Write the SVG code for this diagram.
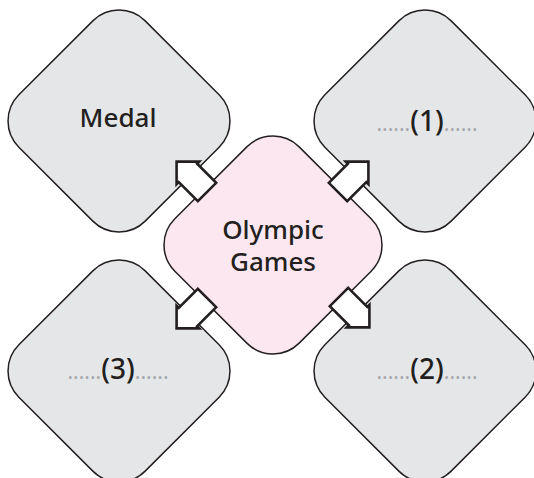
<svg xmlns="http://www.w3.org/2000/svg" width="534" height="478" viewBox="0 0 534 478">
<defs>
<style>
.outer{fill:#e5e6e8;stroke:#231f20;stroke-width:1.5}
.center{fill:#fce7f0;stroke:#231f20;stroke-width:1.5}
.arrow{fill:#ffffff;stroke:#231f20;stroke-width:2.6;stroke-linejoin:miter}
.lbl{font-family:"Noto Sans","Open Sans",sans-serif;font-size:26px;font-weight:500;fill:#231f20;text-anchor:middle}
.num{font-size:28px}
.dots{font-size:21px;font-weight:400;fill:#a7a9ac}
</style>
<path id="arr" d="M0,-13 H27 V-16 L43,0 L27,16 V13 H0 Z"/>
</defs>
<rect width="534" height="478" fill="#ffffff"/>
<g id="node-medal">
<rect class="outer" x="-89.3" y="-89.3" width="178.6" height="178.6" rx="37" transform="translate(119,121) rotate(45)"/>
<text class="lbl" x="118" y="127">Medal</text>
</g>
<g id="node-1">
<rect class="outer" x="-89.3" y="-89.3" width="178.6" height="178.6" rx="37" transform="translate(425,121) rotate(45)"/>
<text class="lbl num" x="427" y="131"><tspan class="dots">......</tspan>(1)<tspan class="dots">......</tspan></text>
</g>
<g id="node-3">
<rect class="outer" x="-89.3" y="-89.3" width="178.6" height="178.6" rx="37" transform="translate(119,371) rotate(45)"/>
<text class="lbl num" x="118" y="379"><tspan class="dots">......</tspan>(3)<tspan class="dots">......</tspan></text>
</g>
<g id="node-2">
<rect class="outer" x="-89.3" y="-89.3" width="178.6" height="178.6" rx="37" transform="translate(425,371) rotate(45)"/>
<text class="lbl num" x="427" y="379"><tspan class="dots">......</tspan>(2)<tspan class="dots">......</tspan></text>
</g>
<g id="node-olympic">
<rect class="center" x="-87.9" y="-87.9" width="175.8" height="175.8" rx="37" transform="translate(273,245) rotate(45)"/>
<text class="lbl" x="273" y="239">Olympic</text>
<text class="lbl" x="273" y="271">Games</text>
</g>
<g id="connectors">
<use href="#arr" class="arrow" transform="translate(207,192) rotate(-135)"/>
<use href="#arr" class="arrow" transform="translate(338,192) rotate(-45)"/>
<use href="#arr" class="arrow" transform="translate(207,298) rotate(135)"/>
<use href="#arr" class="arrow" transform="translate(339,297) rotate(45)"/>
</g>
</svg>
